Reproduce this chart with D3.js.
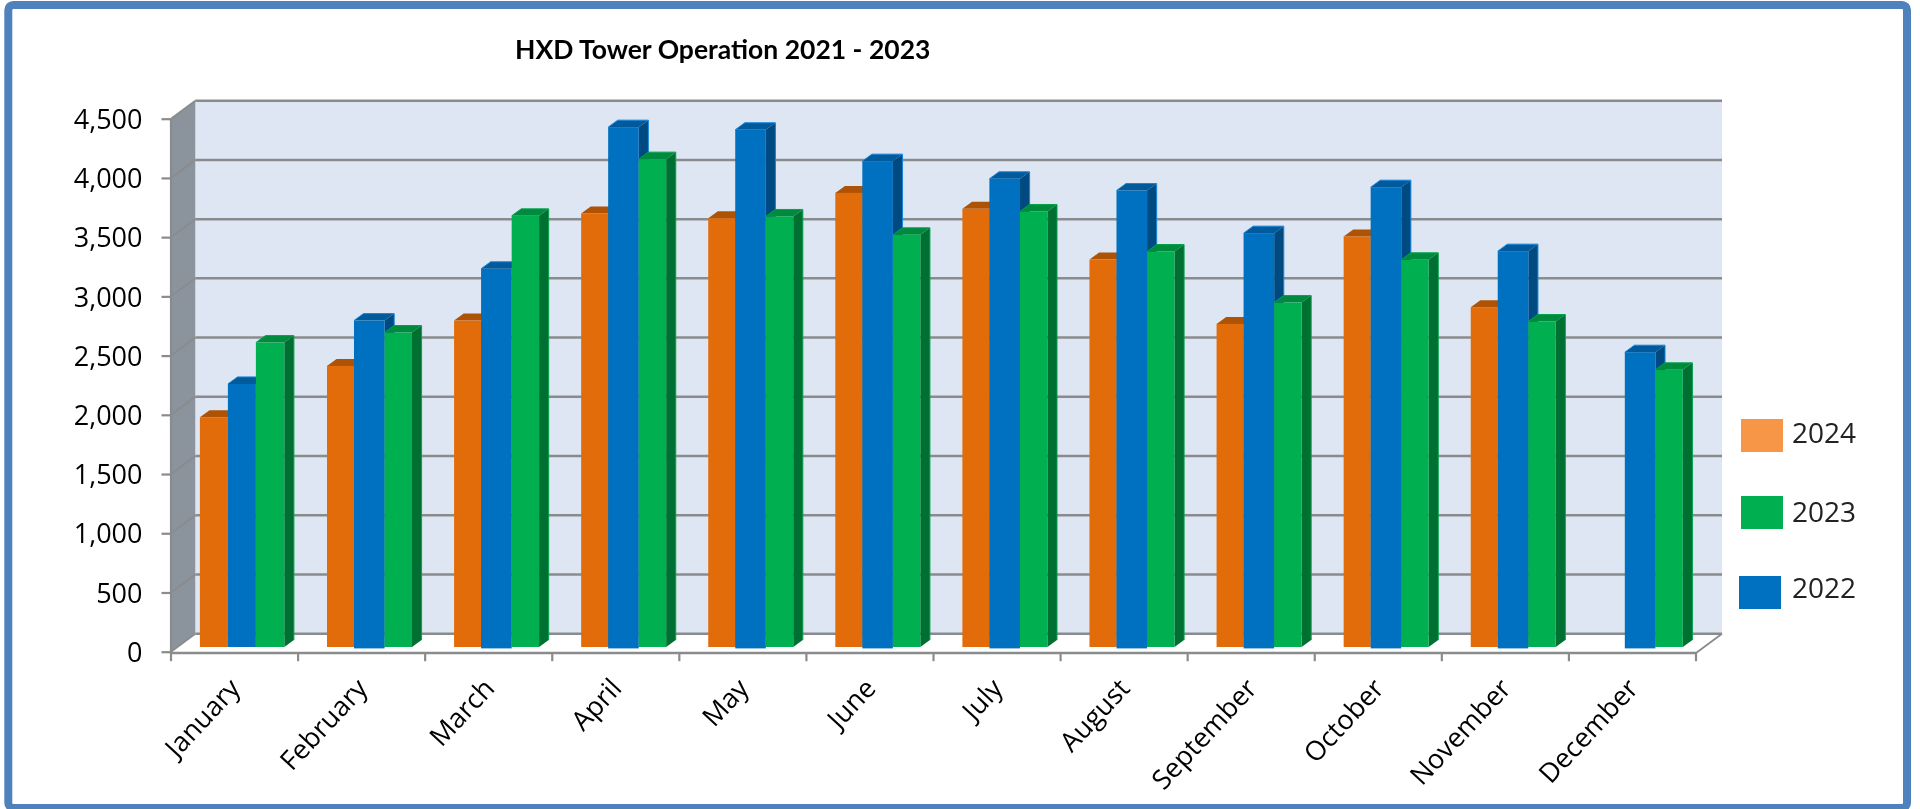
<!DOCTYPE html>
<html>
<head>
<meta charset="utf-8">
<script src="https://cdn.jsdelivr.net/npm/d3@7/dist/d3.min.js"></script>
<style>
html,body{margin:0;padding:0;background:#fff;overflow:hidden}
svg{display:block;filter:blur(0.45px)}
</style>
</head>
<body>
<svg id="chart" width="1920" height="809"></svg>
<script>
const months = ["January","February","March","April","May","June","July","August","September","October","November","December"];
const values2024 = [1940,2373,2756,3660,3620,3834,3699,3271,2728,3466,2869,null];
const values2022 = [2221,2756,3193,4389,4367,4102,3953,3854,3494,3882,3342,2489];
const values2023 = [2570,2655,3640,4119,3635,3480,3677,3339,2908,3269,2748,2340];
const yTicks = [0,500,1000,1500,2000,2500,3000,3500,4000,4500];
const titleText = "HXD Tower Operation 2021 - 2023";
const legendYears = ["2024","2023","2022"];

const svg = d3.select("#chart");
const GREY = "#8a8b8d";
const x = d3.scaleBand().domain(months).range([171,1696]).padding(0);
const y = d3.scaleLinear().domain([0,4500]).range([651.7,118.7]);
const wallDx = 24.3, wallDy = -18;
const barBaseShift = -4.7, barInset = 28.9, barDx = 9.6, barDy = -7;

const series = [
  {key:"2024", values:values2024, front:"#E36C0A", top:"#AE5205", side:"#AE5205", edge:"none", offs:[0,0], w:[27,28], ext:0},
  {key:"2022", values:values2022, front:"#0070C0", top:"#005A9C", side:"#004A82", edge:"#1585DC", offs:[27,28], w:[30.6,28], ext:1.4},
  {key:"2023", values:values2023, front:"#00B050", top:"#008A3E", side:"#006F32", edge:"#00A34A", offs:[57.6,56], w:[27.4,28.4], ext:0}
];

// frame
svg.append("rect").attr("x",8.3).attr("y",4.9).attr("width",1898.7).attr("height",803)
  .attr("rx",5).attr("fill","#fff").attr("stroke","#4F81BD").attr("stroke-width",8);

// back wall, left wall
const [xL,xR] = x.range();
svg.append("rect").attr("x",xL+wallDx).attr("y",y(4500)+wallDy)
  .attr("width",xR-xL+1.7).attr("height",y(0)-y(4500))
  .attr("fill","#DDE6F2");
svg.append("polygon")
  .attr("points",[[xL,y(4500)],[xL+wallDx,y(4500)+wallDy],[xL+wallDx,y(0)+wallDy],[xL,y(0)]].join(" "))
  .attr("fill","#8B939C");

// gridlines on back wall and wall slants
const grid = svg.append("g");
yTicks.forEach(t=>{
  grid.append("line").attr("x1",xL+wallDx).attr("x2",xR+wallDx+1.7)
    .attr("y1",y(t)+wallDy).attr("y2",y(t)+wallDy)
    .attr("stroke",GREY).attr("stroke-width",2.5);
  grid.append("line").attr("x1",xL).attr("x2",xL+wallDx)
    .attr("y1",y(t)).attr("y2",y(t)+wallDy)
    .attr("stroke",GREY).attr("stroke-width",1.8);
});
// wall & floor edges
svg.append("line").attr("x1",xL).attr("x2",xL).attr("y1",y(4500)).attr("y2",y(0)+1)
  .attr("stroke",GREY).attr("stroke-width",2.2);
svg.append("line").attr("x1",xR).attr("x2",xR+wallDx+1.7).attr("y1",y(0)+1.3).attr("y2",y(0)+wallDy)
  .attr("stroke",GREY).attr("stroke-width",1.8);

// bars
months.forEach((m,i)=>{
  const idx = i===0 ? 1 : 0;
  const g = svg.append("g").attr("class","month");
  series.forEach(s=>{
    const v = s.values[i];
    if(v==null) return;
    const bx = x(m)+barInset+s.offs[idx], w = s.w[idx];
    const base = y(0)+barBaseShift, top = y(v)+barBaseShift;
    g.append("polygon")
      .attr("points",[[bx+w,top],[bx+w+barDx,top+barDy],[bx+w+barDx,base+barDy],[bx+w,base]].join(" "))
      .attr("fill",s.side);
    g.append("polygon")
      .attr("points",[[bx,top],[bx+barDx,top+barDy],[bx+w+barDx,top+barDy],[bx+w,top]].join(" "))
      .attr("fill",s.top);
    if(s.edge!=="none"){
      g.append("polyline")
        .attr("points",[[bx,top],[bx+barDx,top+barDy],[bx+w+barDx,top+barDy],[bx+w+barDx,base+barDy]].join(" "))
        .attr("fill","none").attr("stroke",s.edge).attr("stroke-width",1);
    }
    g.append("rect").attr("x",bx).attr("y",top).attr("width",w)
      .attr("height",base-top+(idx===0?s.ext:0)).attr("fill",s.front);
  });
});

// y axis
const yAxis = d3.axisLeft(y).tickValues(yTicks).tickFormat(d3.format(",")).tickSize(9.5).tickPadding(19);
const yG = svg.append("g").attr("transform",`translate(${xL},1)`).call(yAxis);
yG.select(".domain").remove();
yG.selectAll("line").attr("transform","translate(0,-1)").attr("stroke",GREY).attr("stroke-width",2.2);
yG.selectAll("text").attr("font-family","'Open Sans'").attr("font-size",27).attr("fill","#000");

// x axis
const xBoundaries = d3.scaleLinear().domain([0,12]).range([xL,xR]);
svg.append("line").attr("x1",xL).attr("x2",xR).attr("y1",y(0)+1.3).attr("y2",y(0)+1.3)
  .attr("stroke",GREY).attr("stroke-width",2.6);
d3.range(13).forEach(k=>{
  svg.append("line").attr("x1",xBoundaries(k)).attr("x2",xBoundaries(k))
    .attr("y1",y(0)+1.3).attr("y2",y(0)+9.5).attr("stroke",GREY).attr("stroke-width",2.2);
});
svg.append("g").selectAll("text").data(months).join("text")
  .attr("transform",d=>`translate(${x(d)+x.bandwidth()/2+2},${y(0)+33}) rotate(-47)`)
  .attr("text-anchor","end")
  .attr("dominant-baseline","middle")
  .attr("font-family","'Open Sans'").attr("font-size",27).attr("fill","#000")
  .text(d=>d);

// title
svg.append("text").attr("x",515).attr("y",59.3).attr("font-family","Lato").attr("font-weight",700)
  .attr("font-size",26.5).attr("fill","#000").text(titleText);

// legend
const legendColor = d3.scaleOrdinal(legendYears,["#F79646","#00B050","#0070C0"]);
const legendSwatchX = d3.scaleOrdinal(legendYears,[1741,1741,1739]);
const legendSwatchY = d3.scaleOrdinal(legendYears,[419,496,576]);
const legendTextY = d3.scaleOrdinal(legendYears,[443,521.7,597.7]);
const lg = svg.append("g");
legendYears.forEach(k=>{
  lg.append("rect").attr("x",legendSwatchX(k)).attr("y",legendSwatchY(k)).attr("width",42).attr("height",33).attr("fill",legendColor(k));
  lg.append("text").attr("x",1792).attr("y",legendTextY(k)).attr("font-family","'Open Sans'")
    .attr("font-size",28).attr("fill","#222").text(k);
});
</script>
</body>
</html>
